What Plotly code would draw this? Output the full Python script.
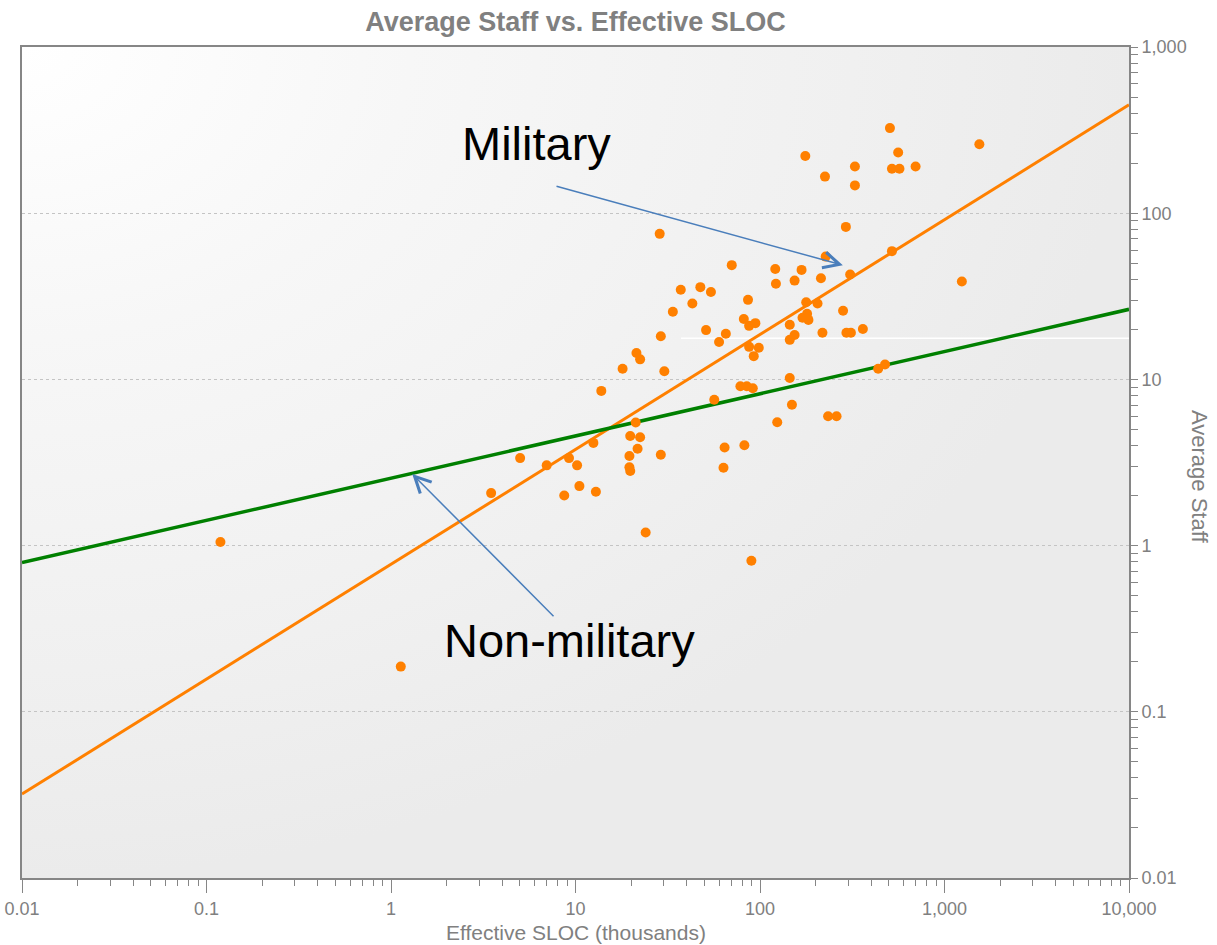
import base64
import plotly.graph_objects as go

FONT = "Liberation Sans, Arial, sans-serif"
GREY = "#808080"
AXIS = "#868686"

# Project size (effective SLOC, thousands) and average staff per project
sloc_k = [
    0.119, 1.13, 3.49, 5.01, 6.98, 9.22, 10.2, 8.69, 10.5, 12.9,
    12.5, 13.8, 18.0, 21.4, 22.4, 30.3, 29.0, 33.7, 43.0, 37.2,
    47.5, 54.2, 28.6, 70.3, 86.1, 51.0, 65.3, 60.0, 81.7, 94.4,
    87.3, 87.3, 98.5, 92.5, 121, 122, 168, 154, 214, 308,
    227, 292, 519, 178, 205, 282, 180, 170, 183, 145,
    154, 145, 218, 294, 311, 361, 145, 78.3, 84.8, 91.4,
    56.5, 149, 437, 476, 234, 260, 124, 21.2, 19.8, 22.4,
    21.7, 19.6, 19.6, 19.8, 29.0, 64.3, 82.3, 63.4, 24.0, 89.8,
    176, 225, 327, 327, 506, 561, 519, 570, 697, 1545, 1242,
]
avg_staff = [
    1.05, 0.187, 2.07, 3.36, 3.04, 3.36, 3.04, 2.00, 2.28, 2.11,
    4.15, 8.53, 11.6, 14.4, 13.2, 11.2, 18.2, 25.5, 28.6, 34.6,
    35.9, 33.6, 75.1, 48.7, 30.1, 19.8, 18.8, 16.8, 23.1, 21.8,
    21.0, 15.7, 15.5, 13.8, 46.2, 37.6, 45.6, 39.3, 40.6, 42.8,
    54.8, 82.7, 59.1, 29.1, 28.6, 25.9, 24.8, 23.5, 22.8, 21.3,
    18.5, 17.3, 19.1, 19.1, 19.1, 20.1, 10.2, 9.10, 9.10, 8.85,
    7.55, 7.04, 11.6, 12.3, 6.00, 6.00, 5.52, 5.51, 4.56, 4.49,
    3.83, 3.46, 2.96, 2.81, 3.52, 3.89, 4.02, 2.94, 1.20, 0.811,
    221, 166, 191, 147, 325, 232, 185, 185, 191, 260, 38.8,
]

# Power-law trend lines, evaluated at the ends of the x range
trend_x = [0.01, 10000]
military_fit = [0.032, 449]
nonmilitary_fit = [0.79, 26.4]

x_ticks = [0.01, 0.1, 1, 10, 100, 1000, 10000]
x_ticktext = ["0.01", "0.1", "1", "10", "100", "1,000", "10,000"]
y_ticks = [0.01, 0.1, 1, 10, 100, 1000]
y_ticktext = ["0.01", "0.1", "1", "10", "100", "1,000"]

fig = go.Figure()

fig.add_trace(go.Scatter(
    x=trend_x, y=military_fit, mode="lines",
    line=dict(color="#FF8000", width=3), hoverinfo="skip",
))
fig.add_trace(go.Scatter(
    x=trend_x, y=nonmilitary_fit, mode="lines",
    line=dict(color="#008000", width=3.5), hoverinfo="skip",
))
fig.add_trace(go.Scatter(
    x=sloc_k, y=avg_staff, mode="markers",
    marker=dict(color="#FF8000", size=10, line=dict(width=0)),
))

# soft grey gradient behind the plotting area
svg = (
    '<svg xmlns="http://www.w3.org/2000/svg" width="1107" height="831" '
    'preserveAspectRatio="none"><defs>'
    '<radialGradient id="g" cx="0" cy="0" r="1" gradientUnits="objectBoundingBox">'
    '<stop offset="0" stop-color="#ffffff"/>'
    '<stop offset="0.35" stop-color="#f7f7f7"/>'
    '<stop offset="0.75" stop-color="#f0f0f0"/>'
    '<stop offset="1" stop-color="#ebebeb"/>'
    '</radialGradient></defs>'
    '<rect x="0" y="0" width="1107" height="831" fill="url(#g)"/></svg>'
)
bg_src = "data:image/svg+xml;base64," + base64.b64encode(svg.encode()).decode()

fig.update_layout(
    width=1217, height=945,
    margin=dict(l=22, r=88, t=47, b=67, autoexpand=False),
    paper_bgcolor="white",
    plot_bgcolor="rgba(0,0,0,0)",
    showlegend=False,
    font=dict(family=FONT, color=GREY),
    title=dict(
        text="<b>Average Staff vs. Effective SLOC</b>",
        x=0.5, xref="paper", xanchor="center",
        y=1 - 22 / 945, yref="container", yanchor="middle",
        font=dict(size=27, color=GREY, family=FONT),
    ),
    images=[dict(
        source=bg_src, xref="paper", yref="paper", x=0, y=1,
        sizex=1, sizey=1, sizing="stretch", xanchor="left", yanchor="top",
        layer="below",
    )],
    xaxis=dict(
        type="log", range=[-2, 4], automargin=False,
        tickmode="array", tickvals=x_ticks, ticktext=x_ticktext,
        ticks="outside", ticklen=13, tickwidth=1, tickcolor=AXIS,
        tickfont=dict(size=18, color=GREY),
        showline=True, linecolor=AXIS, linewidth=2, mirror=True,
        showgrid=False, zeroline=False,
        minor=dict(ticks="outside", ticklen=6, tickwidth=1, tickcolor=AXIS,
                   dtick="D1", showgrid=False),
    ),
    yaxis=dict(
        type="log", range=[-2, 3], side="right", automargin=False,
        tickmode="array", tickvals=y_ticks, ticktext=y_ticktext,
        ticks="outside", ticklen=7, tickwidth=1, tickcolor=AXIS,
        tickfont=dict(size=18, color=GREY),
        showline=True, linecolor=AXIS, linewidth=2, mirror=True,
        showgrid=True, gridcolor="#c4c4c4", griddash="dot", gridwidth=1,
        zeroline=False,
        minor=dict(ticks="outside", ticklen=7, tickwidth=1, tickcolor=AXIS,
                   dtick="D1", showgrid=False),
    ),
    shapes=[dict(
        type="line", xref="x", yref="y", x0=37.3, x1=10000, y0=17.7, y1=17.7,
        line=dict(color="white", width=1.5), layer="below",
    )],
)

ARROW = "#4A7EBB"
annotations = [
    # axis titles
    dict(text="Effective SLOC (thousands)", xref="paper", yref="paper",
         x=0.5, y=(878 - 933) / 831, xanchor="center", yanchor="middle",
         showarrow=False, font=dict(size=21, color=GREY, family=FONT)),
    dict(text="Average Staff", xref="paper", yref="paper",
         x=(1200 - 22) / 1107, y=(878 - 476) / 831, textangle=90,
         xanchor="center", yanchor="middle",
         showarrow=False, font=dict(size=22, color=GREY, family=FONT)),
    # series labels
    dict(text="Military", xref="paper", yref="paper",
         x=(536 - 22) / 1107, y=(878 - 144) / 831,
         xanchor="center", yanchor="middle", showarrow=False,
         font=dict(size=47, color="black", family=FONT)),
    dict(text="Non-military", xref="paper", yref="paper",
         x=(569 - 22) / 1107, y=(878 - 640) / 831,
         xanchor="center", yanchor="middle", showarrow=False,
         font=dict(size=47, color="black", family=FONT)),
    # pointer arrows (log10 coordinates on log axes)
    dict(text="", xref="x", yref="y", axref="x", ayref="y",
         x=2.449, y=1.687, ax=0.889, ay=2.165,
         showarrow=True, arrowhead=5, arrowsize=2.1, arrowwidth=1.5,
         arrowcolor=ARROW, standoff=0, startstandoff=0),
    dict(text="", xref="x", yref="y", axref="x", ayref="y",
         x=0.115, y=0.431, ax=0.889, ay=-0.434,
         showarrow=True, arrowhead=5, arrowsize=2.1, arrowwidth=1.5,
         arrowcolor=ARROW, standoff=0, startstandoff=0),
]
fig.update_layout(annotations=annotations)

fig.write_html("out.html")
